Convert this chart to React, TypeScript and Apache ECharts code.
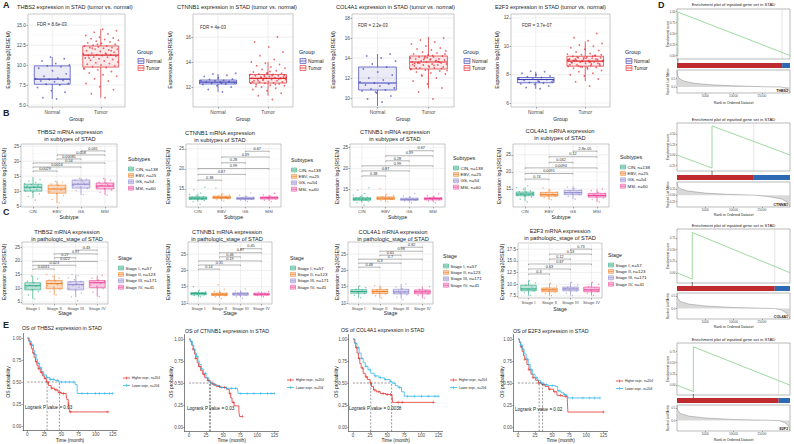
import React, { useEffect, useRef } from "react";
import * as echarts from "echarts";

const FONT = "'Liberation Sans', Arial, Helvetica, sans-serif";

/* ---------------- Panel A: tumor vs normal ---------------- */
const aGroups = ["Normal", "Tumor"];
const aTitles = [
  "THBS2 expression in STAD (tumor vs. normal)",
  "CTNNB1 expression in STAD (tumor vs. normal)",
  "COL4A1 expression in STAD (tumor vs. normal)",
  "E2F3 expression in STAD (tumor vs. normal)",
];
const aFdr = ["FDR = 8.6e-03", "FDR = 4e-03", "FDR = 2.2e-03", "FDR = 3.7e-07"];
const aTicks = [[5, 7.5, 10, 12.5, 15], [12, 14, 16], [10, 12, 14, 16, 18], [6, 8, 10, 12]];
const aTickLabels = [["5.0", "7.5", "10.0", "12.5", "15.0"], ["12", "14", "16"], ["10", "12", "14", "16", "18"], ["6", "8", "10", "12"]];
const aBoxNormal = [
  [5.75, 7.6, 8.25, 9.9, 11.0],
  [11.6, 12.24, 12.4, 12.56, 13.04],
  [9.2, 10.8, 11.5, 13.1, 14.4],
  [7.0, 7.43, 7.66, 7.8, 8.2],
];
const aBoxTumor = [
  [5.9, 9.75, 11.25, 12.4, 14.5],
  [11.3, 12.32, 12.7, 13.0, 14.0],
  [10.95, 12.9, 13.6, 14.2, 16.1],
  [7.55, 8.6, 8.96, 9.3, 10.35],
];
const aPtsNormal = [
  [5.75, 5.9, 6.6, 6.8, 7.2, 7.5, 7.6, 7.7, 7.9, 8.0, 8.1, 8.2, 8.3, 8.4, 8.6, 8.9, 9.3, 9.6, 9.8, 9.9, 10.0, 10.2, 10.5, 10.8, 11.0],
  [11.6, 11.8, 12.0, 12.1, 12.2, 12.25, 12.3, 12.35, 12.4, 12.4, 12.45, 12.5, 12.5, 12.55, 12.6, 12.65, 12.75, 12.85, 12.95, 13.05, 13.1, 12.3],
  [9.6, 9.9, 10.2, 10.5, 10.7, 10.8, 10.9, 11.0, 11.2, 11.3, 11.4, 11.5, 11.6, 11.8, 12.0, 12.3, 12.6, 12.9, 13.1, 13.4, 13.7, 14.0, 14.2, 14.4, 10.6],
  [7.0, 7.1, 7.2, 7.3, 7.35, 7.4, 7.45, 7.5, 7.55, 7.6, 7.65, 7.7, 7.75, 7.8, 7.85, 7.9, 8.0, 8.1, 8.2, 8.25, 7.6, 7.5],
];
const aPtsTumor = [
  [5.9, 6.4, 6.9, 7.3, 7.7, 8.0, 8.3, 8.6, 8.8, 9.0, 9.2, 9.4, 9.5, 9.7, 9.8, 9.9, 10.0, 10.1, 10.2, 10.3, 10.4, 10.5, 10.6, 10.7, 10.8, 10.9, 11.0, 11.0, 11.1, 11.2, 11.2, 11.3, 11.3, 11.4, 11.5, 11.5, 11.6, 11.7, 11.8, 11.9, 12.0, 12.0, 12.1, 12.2, 12.2, 12.3, 12.4, 12.4, 12.5, 12.6, 12.7, 12.8, 12.9, 13.0, 13.1, 13.2, 13.3, 13.4, 13.5, 13.7, 13.9, 14.1, 14.3, 14.5, 10.9, 11.8, 12.6, 9.6, 11.4, 12.1],
  [11.0, 11.3, 11.5, 11.7, 11.8, 11.9, 12.0, 12.1, 12.15, 12.2, 12.25, 12.3, 12.3, 12.35, 12.4, 12.4, 12.45, 12.5, 12.5, 12.55, 12.6, 12.6, 12.65, 12.7, 12.7, 12.7, 12.75, 12.8, 12.8, 12.85, 12.9, 12.9, 12.95, 13.0, 13.0, 13.05, 13.1, 13.15, 13.2, 13.3, 13.4, 13.5, 13.6, 13.7, 13.8, 13.9, 14.0, 14.2, 14.5, 14.8, 15.2, 15.6, 16.0, 12.6, 12.8, 12.9, 12.5, 12.7, 13.1, 12.4, 12.2, 12.75, 12.95, 13.25, 12.05, 12.65, 12.85],
  [9.9, 10.6, 11.0, 11.4, 11.7, 12.0, 12.2, 12.4, 12.5, 12.6, 12.7, 12.8, 12.9, 13.0, 13.0, 13.1, 13.2, 13.2, 13.3, 13.3, 13.4, 13.4, 13.5, 13.5, 13.6, 13.6, 13.7, 13.7, 13.8, 13.8, 13.9, 13.9, 14.0, 14.0, 14.1, 14.1, 14.2, 14.3, 14.4, 14.5, 14.6, 14.7, 14.8, 14.9, 15.0, 15.2, 15.4, 15.6, 15.8, 16.0, 13.1, 13.45, 13.65, 13.85, 12.75, 14.25, 13.55, 12.95, 14.05, 13.35, 13.75, 12.3, 14.4, 13.9, 13.0, 13.6, 14.15, 12.85, 13.25, 13.5],
  [7.2, 7.5, 7.7, 7.9, 8.0, 8.1, 8.2, 8.3, 8.4, 8.45, 8.5, 8.55, 8.6, 8.65, 8.7, 8.75, 8.8, 8.85, 8.9, 8.9, 8.95, 9.0, 9.0, 9.05, 9.1, 9.1, 9.15, 9.2, 9.2, 9.25, 9.3, 9.35, 9.4, 9.45, 9.5, 9.6, 9.7, 9.8, 9.9, 10.0, 10.1, 10.2, 10.4, 10.6, 10.9, 8.95, 9.05, 8.75, 9.25, 8.65, 9.15, 8.85, 9.35, 8.55, 9.0, 8.9, 9.1, 8.8, 9.2, 8.7, 9.3, 8.6, 9.4, 8.5, 9.0, 9.1, 8.95, 9.05, 8.9, 9.0],
];

/* ---------------- Panel B: subtypes ---------------- */
const subtypes = ["CIN", "EBV", "GS", "MSI"];
const subtypeLegend = ["CIN, n=138", "EBV, n=25", "GS, n=54", "MSI, n=60"];
const bTitles = [
  ["THBS2 mRNA expression", "in subtypes of STAD"],
  ["CTNNB1 mRNA expression", "in subtypes of STAD"],
  ["CTNNB1 mRNA expression", "in subtypes of STAD"],
  ["COL4A1 mRNA expression", "in subtypes of STAD"],
];
const bTicks = [[5, 10, 15, 20, 25], [15, 20, 25], [15, 20, 25], [15, 20, 25]];
const bTickLabels = [["5", "10", "15", "20", "25"], ["15", "20", "25"], ["15", "20", "25"], ["15", "20", "25"]];
const bBoxTHBS2 = [[7.7, 10.0, 11.3, 12.3, 14.3], [6.0, 9.3, 10.7, 12.0, 13.3], [8.7, 11.0, 12.3, 13.7, 14.3], [8.7, 10.7, 11.7, 12.7, 14.3]];
const bBoxCTNNB1 = [[11.8, 12.4, 12.7, 13.0, 13.8], [12.0, 12.6, 12.9, 13.2, 13.8], [11.9, 12.4, 12.6, 12.9, 13.4], [12.0, 12.5, 12.8, 13.0, 13.5]];
const bBoxCOL4A1 = [[11.5, 13.0, 13.5, 14.1, 15.5], [11.8, 12.9, 13.3, 14.0, 15.0], [12.0, 13.3, 13.9, 14.6, 15.8], [11.2, 12.6, 13.1, 13.7, 14.9]];
const bPtsTHBS2 = [
  [7.0, 8.2, 9.0, 9.6, 10.1, 10.5, 10.9, 11.2, 11.4, 11.7, 12.0, 12.2, 12.5, 12.9, 13.4, 13.9, 14.4, 11.0, 11.6, 10.3],
  [6.0, 7.2, 8.5, 9.2, 9.8, 10.4, 10.8, 11.3, 11.9, 12.4, 13.0, 13.2],
  [8.8, 10.2, 10.9, 11.4, 11.9, 12.2, 12.5, 12.9, 13.3, 13.6, 14.0, 14.3, 12.0, 12.7],
  [8.7, 9.6, 10.4, 10.9, 11.3, 11.6, 11.9, 12.3, 12.6, 13.0, 13.6, 14.2, 11.5, 12.1],
];
const bPtsCTNNB1 = [
  [11.2, 11.8, 12.1, 12.3, 12.5, 12.6, 12.7, 12.8, 12.9, 13.0, 13.1, 13.3, 13.6, 14.0, 14.8, 15.4, 12.65, 12.75, 12.45, 12.95],
  [12.0, 12.3, 12.6, 12.8, 12.9, 13.0, 13.2, 13.5, 13.8, 15.2, 12.7],
  [11.9, 12.2, 12.4, 12.5, 12.6, 12.7, 12.8, 12.9, 13.1, 13.4, 14.0, 12.55],
  [11.8, 12.2, 12.5, 12.6, 12.7, 12.8, 12.9, 13.0, 13.2, 13.5, 13.9, 12.75],
];
const bPtsCOL4A1 = [
  [11.2, 12.0, 12.6, 12.9, 13.2, 13.4, 13.6, 13.8, 14.0, 14.2, 14.5, 14.9, 15.4, 15.9, 13.5, 13.7, 13.1],
  [11.8, 12.5, 12.9, 13.1, 13.3, 13.5, 13.8, 14.1, 14.6, 15.3, 13.2],
  [12.0, 12.8, 13.3, 13.6, 13.9, 14.1, 14.4, 14.7, 15.1, 15.6, 13.8],
  [11.2, 11.9, 12.4, 12.8, 13.0, 13.2, 13.4, 13.7, 14.0, 14.5, 15.0, 13.1],
];
const bBoxes = [bBoxTHBS2, bBoxCTNNB1, bBoxCTNNB1, bBoxCOL4A1];
const bPts = [bPtsTHBS2, bPtsCTNNB1, bPtsCTNNB1, bPtsCOL4A1];
const bPvals = [
  ["0.0029", "0.0016", "0.54", "0.00081", "0.058", "0.031"],
  ["0.38", "0.87", "0.99", "0.28", "0.39", "0.67"],
  ["0.38", "0.87", "0.99", "0.28", "0.39", "0.67"],
  ["0.74", "0.0091", "0.0094", "0.032", "0.12", "2.8e-05"],
];

/* ---------------- Panel C: pathologic stage ---------------- */
const stages = ["Stage I", "Stage II", "Stage III", "Stage IV"];
const stageLegend = ["Stage I, n=57", "Stage II, n=123", "Stage III, n=171", "Stage IV, n=41"];
const cTitles = [
  ["THBS2 mRNA expression", "in pathologic_stage of STAD"],
  ["CTNNB1 mRNA expression", "in pathologic_stage of STAD"],
  ["COL4A1 mRNA expression", "in pathologic_stage of STAD"],
  ["E2F3 mRNA expression", "in pathologic_stage of STAD"],
];
const cTicks = [[5, 10, 15, 20, 25], [10, 15, 20, 25], [10, 15, 20, 25], [7.5, 10, 12.5, 15, 17.5]];
const cTickLabels = [["5", "10", "15", "20", "25"], ["10", "15", "20", "25"], ["10", "15", "20", "25"], ["7.5", "10.0", "12.5", "15.0", "17.5"]];
const cBoxes = [
  [[6.1, 9.4, 10.9, 12.0, 14.6], [7.6, 9.8, 11.7, 12.8, 15.0], [6.8, 9.4, 11.3, 12.4, 15.0], [7.0, 10.2, 12.0, 12.8, 14.6]],
  [[11.9, 12.5, 12.9, 13.2, 13.9], [11.6, 12.3, 12.7, 13.0, 13.8], [11.7, 12.4, 12.8, 13.1, 13.9], [11.9, 12.4, 12.7, 13.0, 13.5]],
  [[11.6, 13.0, 13.5, 14.1, 15.2], [11.5, 12.9, 13.5, 14.1, 15.4], [11.3, 12.8, 13.4, 14.2, 15.8], [11.5, 12.8, 13.4, 14.0, 15.0]],
  [[7.6, 8.6, 9.0, 9.8, 10.8], [7.6, 8.4, 8.8, 9.2, 10.2], [7.6, 8.6, 9.0, 9.4, 10.4], [7.6, 8.4, 8.8, 9.4, 10.4]],
];
const cPts = [
  [
    [6.1, 7.5, 8.8, 9.5, 10.2, 10.7, 11.1, 11.5, 12.0, 12.6, 13.4, 14.5],
    [7.6, 8.8, 9.6, 10.3, 10.9, 11.4, 11.8, 12.2, 12.6, 13.0, 13.6, 14.3, 15.0, 11.6],
    [5.5, 6.8, 8.3, 9.2, 9.8, 10.4, 10.9, 11.3, 11.7, 12.1, 12.5, 13.1, 13.8, 14.6, 15.0, 11.2, 11.5],
    [7.0, 8.6, 9.8, 10.6, 11.2, 11.8, 12.2, 12.6, 13.0, 13.6, 14.6],
  ],
  [
    [11.9, 12.3, 12.6, 12.8, 12.9, 13.0, 13.2, 13.5, 13.9, 15.0],
    [11.4, 11.9, 12.2, 12.4, 12.6, 12.7, 12.8, 13.0, 13.2, 13.6, 14.2, 15.6, 12.5],
    [11.5, 11.9, 12.3, 12.5, 12.7, 12.8, 12.9, 13.1, 13.3, 13.7, 14.3, 12.6, 12.75],
    [11.9, 12.3, 12.5, 12.7, 12.8, 13.0, 13.3, 13.5],
  ],
  [
    [11.6, 12.4, 12.9, 13.3, 13.6, 13.9, 14.2, 14.7, 15.2],
    [11.5, 12.2, 12.8, 13.1, 13.4, 13.6, 13.9, 14.2, 14.6, 15.4, 13.5],
    [11.0, 11.8, 12.5, 12.9, 13.2, 13.4, 13.7, 14.0, 14.4, 14.9, 15.8, 13.3, 13.6],
    [11.5, 12.3, 12.8, 13.2, 13.5, 13.8, 14.2, 15.0],
  ],
  [
    [7.6, 8.2, 8.6, 8.9, 9.1, 9.4, 9.8, 10.3, 10.8],
    [7.6, 8.0, 8.3, 8.6, 8.8, 9.0, 9.2, 9.6, 10.2, 8.9],
    [7.6, 8.1, 8.5, 8.8, 9.0, 9.2, 9.4, 9.8, 10.4, 9.1],
    [7.6, 8.1, 8.4, 8.7, 8.9, 9.2, 9.5, 10.0, 10.4],
  ],
];
const cPvals = [
  ["0.0031", "0.023", "0.022", "0.27", "0.97", "0.43"],
  ["0.14", "0.31", "0.19", "0.46", "0.87", "0.45"],
  ["0.48", "0.3", "0.7", "0.61", "0.98", "0.82"],
  ["0.3", "0.63", "0.67", "0.12", "0.53", "0.73"],
];
const comparisons = [[0, 1], [0, 2], [0, 3], [1, 2], [1, 3], [2, 3]];

/* ---------------- Panel E: Kaplan-Meier ---------------- */
const kmTitles = ["OS of THBS2 expression in STAD", "OS of CTNNB1 expression in STAD", "OS of COL4A1 expression in STAD", "OS of E2F3 expression in STAD"];
const kmLegend = ["Higher expr., n=204", "Lower expr., n=204"];
const kmPvals = ["Logrank P value = 0.03", "Logrank P value = 0.03", "Logrank P value = 0.0038", "Logrank P value = 0.02"];
const kmXTicks = [0, 25, 50, 75, 100, 125];
const kmXLabels = ["0", "25", "50", "75", "100", "125"];
const kmYTicks = [0, 0.25, 0.5, 0.75, 1];
const kmYLabels = ["0.00", "0.25", "0.50", "0.75", "1.00"];
const kmHigh = [
  [[0, 1], [2, 0.97], [4, 0.93], [6, 0.88], [8, 0.83], [10, 0.78], [12, 0.73], [14, 0.69], [16, 0.65], [19, 0.61], [22, 0.57], [25, 0.54], [28, 0.5], [31, 0.46], [35, 0.43], [40, 0.41], [45, 0.38], [50, 0.37], [57, 0.35], [58, 0.3], [60, 0.25], [61, 0.2], [62, 0.16], [118, 0.16]],
  [[0, 1], [2, 0.97], [4, 0.93], [6, 0.88], [8, 0.83], [10, 0.78], [12, 0.73], [14, 0.69], [17, 0.64], [20, 0.6], [23, 0.56], [27, 0.53], [31, 0.5], [35, 0.48], [40, 0.46], [46, 0.45], [55, 0.43], [59, 0.38], [61, 0.33], [63, 0.28], [66, 0.24], [73, 0.18], [74, 0.12], [78, 0.12]],
  [[0, 1], [2, 0.96], [4, 0.9], [6, 0.84], [8, 0.78], [10, 0.72], [12, 0.67], [15, 0.61], [18, 0.57], [21, 0.54], [25, 0.5], [27, 0.46], [30, 0.42], [34, 0.4], [40, 0.38], [48, 0.37], [57, 0.37], [58, 0.28], [118, 0.28]],
  [[0, 1], [2, 0.96], [4, 0.91], [6, 0.86], [8, 0.81], [10, 0.77], [13, 0.71], [16, 0.65], [19, 0.6], [22, 0.56], [26, 0.53], [30, 0.5], [35, 0.48], [40, 0.46], [45, 0.43], [52, 0.4], [57, 0.36], [65, 0.35], [72, 0.33], [73, 0.17], [125, 0.17]],
];
const kmLow = [
  [[0, 1], [3, 0.96], [6, 0.92], [9, 0.86], [11, 0.81], [13, 0.76], [15, 0.71], [18, 0.66], [21, 0.62], [24, 0.58], [28, 0.55], [33, 0.53], [40, 0.52], [46, 0.5], [55, 0.5], [70, 0.47], [73, 0.37], [125, 0.37]],
  [[0, 1], [2, 0.97], [5, 0.93], [7, 0.88], [9, 0.84], [11, 0.8], [13, 0.75], [15, 0.71], [18, 0.66], [21, 0.61], [25, 0.56], [29, 0.52], [32, 0.49], [38, 0.47], [45, 0.45], [55, 0.44], [65, 0.44], [71, 0.43], [72, 0.38], [125, 0.38]],
  [[0, 1], [3, 0.95], [6, 0.9], [9, 0.84], [12, 0.78], [15, 0.73], [18, 0.69], [22, 0.65], [26, 0.61], [31, 0.58], [38, 0.56], [46, 0.54], [54, 0.52], [57, 0.5], [62, 0.47], [66, 0.45], [71, 0.4], [75, 0.35], [125, 0.35]],
  [[0, 1], [2, 0.97], [4, 0.93], [7, 0.88], [9, 0.83], [12, 0.77], [15, 0.71], [18, 0.65], [21, 0.6], [25, 0.56], [29, 0.53], [33, 0.5], [38, 0.48], [44, 0.47], [55, 0.46], [58, 0.41], [63, 0.39], [67, 0.37], [71, 0.35], [73, 0.33], [120, 0.33]],
];
const kmHighCensor = [
  [5, 9, 13, 17, 21, 26, 30, 36, 42, 48, 53, 60, 63, 118],
  [6, 10, 15, 22, 28, 34, 38, 45, 52, 60, 65, 78],
  [5, 9, 14, 20, 26, 32, 38, 44, 50, 55, 66, 72, 118],
  [5, 10, 16, 22, 30, 38, 46, 54, 62, 70, 125],
];
const kmLowCensor = [
  [4, 8, 12, 16, 20, 24, 29, 34, 38, 44, 50, 56, 62, 68, 80, 88, 100, 106, 113, 120, 125],
  [4, 8, 12, 18, 24, 30, 36, 42, 48, 55, 62, 68, 76, 85, 95, 105, 115, 120, 125],
  [4, 8, 13, 19, 25, 33, 40, 48, 55, 60, 68, 80, 90, 100, 110, 120, 125],
  [4, 8, 14, 20, 27, 35, 42, 50, 60, 68, 80, 95, 105, 112, 120],
];
const kmMedians = [[29, 47], [30, 31.5], [26, 56.5], [31, 36]];

/* ---------------- Panel D: enrichment plots ---------------- */
const dGenes = ["THBS2", "CTNNB1", "COL4A1", "E2F3"];
const dTitle = "Enrichment plot of inputted gene set in STAD";
const dTotalRank = 20000;
const dHitRank = [150, 6200, 2700, 2900];
const dZeroCross = [18600, 13600, 17300, 18000];
const dES = [
  [[0, 0], [150, -0.01], [150, 0.99], [20000, 0]],
  [[0, 0], [6200, -0.31], [6200, 0.69], [20000, 0]],
  [[0, 0], [2700, -0.135], [2700, 0.865], [20000, 0]],
  [[0, 0], [2900, -0.145], [2900, 0.855], [20000, 0]],
];
const dESRange = [[-0.08, 1.06], [-0.38, 0.76], [-0.22, 0.94], [-0.22, 0.94]];
const dESTicks = [[0, 0.25, 0.5, 0.75, 1], [-0.25, 0, 0.25, 0.5], [0, 0.25, 0.5, 0.75], [0, 0.25, 0.5, 0.75]];
const dESLabels = [["0.00", "0.25", "0.50", "0.75", "1.00"], ["-0.25", "0.00", "0.25", "0.50"], ["0.00", "0.25", "0.50", "0.75"], ["0.00", "0.25", "0.50", "0.75"]];
const dMetric = [
  [[0, 0.95], [100, 0.7], [400, 0.5], [1200, 0.35], [3000, 0.22], [6000, 0.13], [10000, 0.07], [15000, 0.02], [18600, 0], [19300, -0.08], [19800, -0.2], [20000, -0.33]],
  [[0, 0.5], [150, 0.35], [600, 0.25], [2000, 0.16], [5000, 0.08], [9000, 0.03], [13600, 0], [16000, -0.05], [18500, -0.15], [19500, -0.28], [20000, -0.45]],
  [[0, 0.6], [150, 0.4], [600, 0.28], [2000, 0.18], [5000, 0.1], [10000, 0.04], [17300, 0], [18500, -0.06], [19500, -0.2], [20000, -0.4]],
  [[0, 0.6], [150, 0.4], [600, 0.28], [2000, 0.18], [5000, 0.1], [10000, 0.04], [18000, 0], [19000, -0.08], [19700, -0.2], [20000, -0.4]],
];
const dMetRange = [[-0.35, 1.0], [-0.47, 0.52], [-0.42, 0.62], [-0.42, 0.62]];
const dMetTicks = [[0, 0.5], [-0.25, 0, 0.25], [0, 0.5], [0, 0.5]];
const dMetLabels = [["0.0", "0.5"], ["-0.25", "0.00", "0.25"], ["0.0", "0.5"], ["0.0", "0.5"]];
const rankTicks = [5000, 10000, 15000];
const rankLabels = ["5000", "10000", "15000"];

/* ---------------- layout (pixels) ---------------- */
const A_LAY = [
  { l: 28, w: 97, ymin: 4.75, ymax: 16.4, tx: 17, fdr: [37, 24], leg: 137, yName: 8 },
  { l: 193, w: 100, ymin: 10.4, ymax: 17.85, tx: 177, fdr: [200, 27], leg: 299, yName: 170 },
  { l: 352, w: 102, ymin: 9.1, ymax: 18.4, tx: 336, fdr: [358, 25], leg: 463, yName: 333 },
  { l: 511, w: 99, ymin: 5.72, ymax: 12.28, tx: 495, fdr: [522, 25], leg: 625, yName: 497 },
];
const B_LAY = [
  { l: 21, t: 144, w: 96, h: 63, ymin: 4.7, ymax: 25.7, tx: 70, ty: 132, leg: 128, legY: 159, yName: 4, base: 16.7, step: 1.34 },
  { l: 186, t: 144, w: 95, h: 63, ymin: 10.5, ymax: 26.2, tx: 220, ty: 133, leg: 291, legY: 160, yName: 168, base: 17.2, step: 1.44 },
  { l: 350, t: 144, w: 95, h: 63, ymin: 10.8, ymax: 25.8, tx: 395, ty: 132, leg: 453, legY: 158, yName: 337, base: 18.2, step: 1.2 },
  { l: 513, t: 144, w: 96, h: 63, ymin: 9.7, ymax: 28.2, tx: 560, ty: 131, leg: 620, legY: 157, yName: 499, base: 17.9, step: 1.64 },
];
const C_LAY = [
  { l: 22, t: 242, w: 86, h: 62, ymin: 4.26, ymax: 26.85, tx: 67, ty: 232, leg: 118, legY: 258, yName: 4, base: 17.0, step: 1.38, xn: 313 },
  { l: 188, t: 242, w: 84, h: 62, ymin: 9.7, ymax: 28.7, tx: 227, ty: 232, leg: 290, legY: 258, yName: 168, base: 20.4, step: 1.25, xn: 313 },
  { l: 348, t: 242, w: 85, h: 62, ymin: 9.7, ymax: 28.7, tx: 393, ty: 232, leg: 443, legY: 256, yName: 337, base: 21.0, step: 1.22, xn: 313 },
  { l: 518, t: 243, w: 84, h: 55, ymin: 7.07, ymax: 18.8, tx: 560, ty: 231, leg: 608, legY: 255, yName: 502, base: 12.2, step: 1.06, xn: 309 },
];
const E_LAY = [
  { l: 23, t: 333.6, tx: 22, ty: 328, leg: [123, 378], yName: 8, p: [25, 407] },
  { l: 184.7, t: 334.6, tx: 185, ty: 331, leg: [287, 380], yName: 171, p: [187, 408] },
  { l: 348.7, t: 334.6, tx: 341, ty: 330, leg: [450, 380], yName: 336, p: [349, 408] },
  { l: 513.7, t: 334.6, tx: 513, ty: 331, leg: [616, 381], yName: 502, p: [515, 409] },
];
const D_LAY = [
  { title: 4, es: [9, 59], bar: [63, 68], met: [70, 93], tick: 98, name: 103, gene: 91 },
  { title: 119, es: [123, 171], bar: [175, 180], met: [182, 207], tick: 211, name: 215, gene: 205 },
  { title: 225, es: [229, 283], bar: [286, 291], met: [293, 319], tick: 323, name: 327, gene: 317 },
  { title: 339, es: [343, 395], bar: [398, 403], met: [405, 431], tick: 435, name: 440, gene: 429 },
];
const D_L = 677;
const D_W = 113;

const aColors = ["#3B3FB6", "#E0282E"];
const groupColors = ["#23A77F", "#EE7A1E", "#8B83CC", "#EC3A95"];
const kmColors = ["#E3342F", "#35B8EE"];
const PLUS = "path://M4,0H6V4H10V6H6V10H4V6H0V4H4Z";

function rgba(hex: string, a: number) {
  const n = parseInt(hex.slice(1), 16);
  return `rgba(${(n >> 16) & 255},${(n >> 8) & 255},${n & 255},${a})`;
}
function jit(i: number) {
  return (((i + 1) * 0.6180339887) % 1) * 2 - 1;
}
function survAt(curve: number[][], t: number) {
  let s = curve[0][1];
  for (const [tt, ss] of curve) if (tt <= t) s = ss;
  return s;
}

function buildOption() {
  const grid: any[] = [];
  const xAxis: any[] = [];
  const yAxis: any[] = [];
  const series: any[] = [];
  const graphic: any[] = [];

  const txt = (x: number, y: number, text: string, size: number, o: any = {}) => {
    graphic.push({
      type: "text", x, y, rotation: o.rot || 0, silent: true, z: 50,
      style: {
        text, fontSize: size, fontFamily: FONT, fontWeight: o.bold ? "bold" : "normal",
        fill: o.color || "#222", align: o.align || "left", verticalAlign: o.va || "middle",
        textAlign: o.align || "left", textVerticalAlign: o.va || "middle",
      },
    });
  };
  const gline = (x1: number, y1: number, x2: number, y2: number, stroke: string, lw = 0.6) =>
    graphic.push({ type: "line", silent: true, z: 50, shape: { x1, y1, x2, y2 }, style: { stroke, lineWidth: lw } });
  const grect = (x: number, y: number, w: number, h: number, stroke: string, fill: string, lw = 0.6) =>
    graphic.push({ type: "rect", silent: true, z: 50, shape: { x, y, width: w, height: h }, style: { stroke, fill, lineWidth: lw } });

  const addGrid = (l: number, t: number, w: number, h: number, border?: string) => {
    grid.push({ left: l, top: t, width: w, height: h, show: !!border, borderColor: border || "transparent", borderWidth: 0.6, backgroundColor: "transparent" });
    return grid.length - 1;
  };
  const axis = (gi: number, min: number, max: number, ticks: number[], labels: string[], o: any = {}) => {
    const has = ticks.length > 0;
    return {
      type: "value", gridIndex: gi, min, max,
      axisLine: { show: !!o.line, onZero: false, lineStyle: { color: "#333", width: 0.6 } },
      axisTick: has ? { show: true, customValues: ticks, length: o.tickLen ?? 1.5, lineStyle: { color: "#555", width: 0.5 } } : { show: false },
      axisLabel: has
        ? {
            show: true, customValues: ticks,
            formatter: (v: number) => { const k = ticks.findIndex((t) => Math.abs(t - v) < 1e-6); return k >= 0 ? labels[k] : ""; },
            fontSize: o.fs ?? 4.6, fontFamily: FONT, color: "#4d4d4d", margin: o.margin ?? 2,
          }
        : { show: false },
      splitLine: { show: false },
    };
  };
  const gridLines = (gi: number, lines: number[][], major = "#E2E2E2", minor = "#F0F0F0") => {
    series.push({
      type: "custom", xAxisIndex: gi, yAxisIndex: gi, silent: true, z: 1, data: lines,
      renderItem: (p: any, api: any) => {
        const cs = p.coordSys;
        const o = api.value(0), v = api.value(1), mi = api.value(2);
        const style = { stroke: mi ? minor : major, lineWidth: mi ? 0.35 : 0.55 };
        if (o === 0) {
          const y = api.coord([0, v])[1];
          return { type: "line", shape: { x1: cs.x, y1: y, x2: cs.x + cs.width, y2: y }, style };
        }
        const x = api.coord([v, 0])[0];
        return { type: "line", shape: { x1: x, y1: cs.y, x2: x, y2: cs.y + cs.height }, style };
      },
    });
  };

  const boxPanel = (c: any) => {
    const gi = addGrid(c.l, c.t, c.w, c.h, "#a3a3a3");
    const n = c.cats.length;
    const idx = c.cats.map((_: any, i: number) => i);
    xAxis.push(axis(gi, -0.5, n - 0.5, idx, c.cats, { fs: c.catFs, margin: 2.5 }));
    yAxis.push(axis(gi, c.ymin, c.ymax, c.ticks, c.tickLabels, { fs: c.fs }));
    const lines: number[][] = [];
    c.ticks.forEach((v: number) => lines.push([0, v, 0]));
    const st = c.ticks[1] - c.ticks[0];
    for (let v = c.ticks[0] - st / 2; v <= c.ymax; v += st) if (v >= c.ymin) lines.push([0, v, 1]);
    idx.forEach((i: number) => lines.push([1, i, 0]));
    gridLines(gi, lines);
    c.pts.forEach((arr: number[], g: number) =>
      series.push({
        type: "scatter", xAxisIndex: gi, yAxisIndex: gi, silent: true, z: 2, symbolSize: c.ptSize,
        itemStyle: { color: rgba(c.colors[g], c.ptAlpha) },
        data: arr.map((v, i) => [g + jit(i) * c.jw, v]),
      })
    );
    series.push({
      type: "custom", xAxisIndex: gi, yAxisIndex: gi, silent: true, z: 3,
      data: c.boxes.map((b: number[], i: number) => [i, ...b]),
      renderItem: (p: any, api: any) => {
        const x = api.value(0);
        const col = c.colors[p.dataIndex];
        const bw = api.size([1, 0])[0] * c.boxFrac;
        const pMin = api.coord([x, api.value(1)]);
        const pQ1 = api.coord([x, api.value(2)]);
        const pMed = api.coord([x, api.value(3)]);
        const pQ3 = api.coord([x, api.value(4)]);
        const pMax = api.coord([x, api.value(5)]);
        const s = { stroke: col, lineWidth: c.lw };
        return {
          type: "group",
          children: [
            { type: "line", shape: { x1: pMax[0], y1: pMax[1], x2: pQ3[0], y2: pQ3[1] }, style: s },
            { type: "line", shape: { x1: pQ1[0], y1: pQ1[1], x2: pMin[0], y2: pMin[1] }, style: s },
            { type: "rect", shape: { x: pMed[0] - bw / 2, y: pQ3[1], width: bw, height: pQ1[1] - pQ3[1] }, style: { stroke: col, lineWidth: c.lw, fill: rgba(col, c.fillAlpha) } },
            { type: "line", shape: { x1: pMed[0] - bw / 2, y1: pMed[1], x2: pMed[0] + bw / 2, y2: pMed[1] }, style: { stroke: col, lineWidth: c.lw * 1.7 } },
          ],
        };
      },
    });
    if (c.pvals) {
      series.push({
        type: "custom", xAxisIndex: gi, yAxisIndex: gi, silent: true, z: 5,
        data: comparisons.map((pr, k) => [pr[0], pr[1], c.base + k * c.step]),
        renderItem: (p: any, api: any) => {
          const y = api.value(2);
          const a = api.coord([api.value(0), y]);
          const b = api.coord([api.value(1), y]);
          const st2 = { stroke: "#6b6b6b", lineWidth: 0.5 };
          return {
            type: "group",
            children: [
              { type: "line", shape: { x1: a[0], y1: a[1], x2: b[0], y2: b[1] }, style: st2 },
              { type: "line", shape: { x1: a[0], y1: a[1], x2: a[0], y2: a[1] + 1 }, style: st2 },
              { type: "line", shape: { x1: b[0], y1: b[1], x2: b[0], y2: b[1] + 1 }, style: st2 },
              {
                type: "text", x: (a[0] + b[0]) / 2, y: a[1] - 0.3,
                style: { text: c.pvals[p.dataIndex], fontSize: 3.8, fontFamily: FONT, fill: "#333", align: "center", verticalAlign: "bottom", textAlign: "center", textVerticalAlign: "bottom" },
              },
            ],
          };
        },
      });
    }
    return gi;
  };

  /* ---- letters ---- */
  txt(3, 5, "A", 9, { bold: true });
  txt(3, 113, "B", 9, { bold: true });
  txt(3, 212, "C", 9, { bold: true });
  txt(3, 325, "E", 9, { bold: true });
  txt(658, 5, "D", 9, { bold: true });

  /* ---- A ---- */
  aTitles.forEach((title, i) => {
    const L = A_LAY[i];
    boxPanel({
      l: L.l, t: 14, w: L.w, h: 93, ymin: L.ymin, ymax: L.ymax, ticks: aTicks[i], tickLabels: aTickLabels[i],
      cats: aGroups, colors: aColors, pts: [aPtsNormal[i], aPtsTumor[i]], boxes: [aBoxNormal[i], aBoxTumor[i]],
      fs: 4.8, catFs: 4.8, jw: 0.37, ptSize: 1.7, ptAlpha: 0.85, boxFrac: 0.74, fillAlpha: 0.1, lw: 0.7,
    });
    txt(L.tx, 7, title, 5.6);
    txt(L.fdr[0], L.fdr[1], aFdr[i], 4.5, { color: "#333" });
    txt(L.yName, 60, "Expression log2(RSEM)", 5.4, { rot: Math.PI / 2, align: "center" });
    txt(L.l + L.w / 2, 118.5, "Group", 5.2, { align: "center" });
    txt(L.leg, 52, "Group", 5.6);
    aGroups.forEach((g, k) => {
      const y = 61 + k * 7;
      grect(L.leg + 1, y - 2.5, 6, 5, aColors[k], rgba(aColors[k], 0.1));
      gline(L.leg + 1, y, L.leg + 7, y, aColors[k], 0.7);
      txt(L.leg + 9, y, g, 4.8);
    });
  });

  /* ---- B and C ---- */
  const rowPanels = (titles: string[][], lay: any[], ticks: number[][], tickLabels: string[][], boxes: number[][][][], pts: number[][][][], pvals: string[][], cats: string[], legTitle: string, legItems: string[], xName: string, xNameY: number | null, yNameY: number) => {
    titles.forEach((tl, i) => {
      const L = lay[i];
      boxPanel({
        l: L.l, t: L.t, w: L.w, h: L.h, ymin: L.ymin, ymax: L.ymax, ticks: ticks[i], tickLabels: tickLabels[i],
        cats, colors: groupColors, pts: pts[i], boxes: boxes[i], fs: 4.6, catFs: 4.4, jw: 0.38, ptSize: 1.3, ptAlpha: 0.75,
        boxFrac: 0.74, fillAlpha: 0.28, lw: 0.6, pvals: pvals[i], base: L.base, step: L.step,
      });
      txt(L.tx, L.ty, tl[0], 5.7, { align: "center" });
      txt(L.tx, L.ty + 6.5, tl[1], 5.7, { align: "center" });
      txt(L.yName, yNameY, "Expression log2(RSEM)", 5.3, { rot: Math.PI / 2, align: "center" });
      txt(L.l + L.w / 2, xNameY ?? L.xn, xName, 5.2, { align: "center" });
      txt(L.leg, L.legY, legTitle, 5.3);
      legItems.forEach((g, k) => {
        const y = L.legY + 10 + k * 6.4;
        grect(L.leg + 0.5, y - 2, 5, 4, groupColors[k], rgba(groupColors[k], 0.3), 0.5);
        gline(L.leg + 0.5, y, L.leg + 5.5, y, groupColors[k], 0.6);
        txt(L.leg + 7.5, y, g, 4.4);
      });
    });
  };
  rowPanels(bTitles, B_LAY, bTicks, bTickLabels, bBoxes, bPts, bPvals, subtypes, "Subtypes", subtypeLegend, "Subtype", 216.5, 176);
  rowPanels(cTitles, C_LAY, cTicks, cTickLabels, cBoxes, cPts, cPvals, stages, "Stage", stageLegend, "Stage", null, 272);

  /* ---- E ---- */
  kmTitles.forEach((title, i) => {
    const L = E_LAY[i];
    const gi = addGrid(L.l, L.t, 94, 96.8);
    xAxis.push(axis(gi, -6.25, 131.25, kmXTicks, kmXLabels, { fs: 4.5, line: true, tickLen: 1.6, margin: 1.5 }));
    yAxis.push(axis(gi, -0.05, 1.05, kmYTicks, kmYLabels, { fs: 4.5, line: true, tickLen: 1.6, margin: 1.8 }));
    const curves = [kmHigh[i], kmLow[i]];
    const cens = [kmHighCensor[i], kmLowCensor[i]];
    const [m1, m2] = kmMedians[i];
    const dash = { color: "#333", width: 0.5, type: [2, 1.5] };
    [[[0, 0.5], [m2, 0.5]], [[m1, -0.05], [m1, 0.5]], [[m2, -0.05], [m2, 0.5]]].forEach((seg) =>
      series.push({ type: "line", xAxisIndex: gi, yAxisIndex: gi, silent: true, z: 5, symbol: "none", lineStyle: dash, data: seg })
    );
    curves.forEach((cv, k) => {
      series.push({ type: "line", xAxisIndex: gi, yAxisIndex: gi, step: "end", symbol: "none", silent: true, z: 3, lineStyle: { color: kmColors[k], width: 0.8 }, data: cv });
      series.push({
        type: "scatter", xAxisIndex: gi, yAxisIndex: gi, silent: true, z: 4, symbol: PLUS, symbolSize: 3,
        itemStyle: { color: kmColors[k] }, data: cens[k].map((t) => [t, survAt(cv, t)]),
      });
    });
    txt(L.tx, L.ty, title, 5.3);
    txt(L.yName, 382, "OS probability", 5, { rot: Math.PI / 2, align: "center" });
    txt(L.l + 47, 440.8, "Time (month)", 4.8, { align: "center" });
    txt(L.p[0], L.p[1], kmPvals[i], 4.6);
    kmLegend.forEach((lab, k) => {
      const x = L.leg[0];
      const y = L.leg[1] + k * 7.5;
      gline(x, y, x + 7, y, kmColors[k], 0.8);
      gline(x + 3.5, y - 1.5, x + 3.5, y + 1.5, kmColors[k], 0.6);
      txt(x + 9, y, lab, 3.2);
    });
  });

  /* ---- D ---- */
  dGenes.forEach((gene, i) => {
    const L = D_LAY[i];
    const g1 = addGrid(D_L, L.es[0], D_W, L.es[1] - L.es[0], "#8c8c8c");
    xAxis.push(axis(g1, 0, dTotalRank, [], []));
    yAxis.push(axis(g1, dESRange[i][0], dESRange[i][1], dESTicks[i], dESLabels[i], { fs: 3, tickLen: 1, margin: 1.5 }));
    gridLines(g1, [[1, dZeroCross[i], 0]], "#D0D0D0");
    series.push({ type: "line", xAxisIndex: g1, yAxisIndex: g1, silent: true, z: 3, symbol: "none", lineStyle: { color: "#86CF86", width: 0.8 }, data: dES[i] });

    const g2 = addGrid(D_L, L.bar[0], D_W, L.bar[1] - L.bar[0]);
    xAxis.push(axis(g2, 0, dTotalRank, [], []));
    yAxis.push(axis(g2, 0, 1, [], []));
    series.push({
      type: "custom", xAxisIndex: g2, yAxisIndex: g2, silent: true, z: 3,
      data: [[0, dZeroCross[i], 0], [dZeroCross[i], dTotalRank, 1]],
      renderItem: (p: any, api: any) => {
        const a = api.coord([api.value(0), 1]);
        const b = api.coord([api.value(1), 0]);
        return { type: "rect", shape: { x: a[0], y: a[1], width: b[0] - a[0], height: b[1] - a[1] }, style: { fill: p.dataIndex === 0 ? "#BF2A2F" : "#2C6BB3" } };
      },
    });
    series.push({
      type: "custom", xAxisIndex: g2, yAxisIndex: g2, silent: true, z: 4,
      data: [[dHitRank[i], 1]],
      renderItem: (p: any, api: any) => {
        const a = api.coord([api.value(0), api.value(1)]);
        return { type: "line", shape: { x1: a[0], y1: a[1] - 4, x2: a[0], y2: a[1] }, style: { stroke: "#222", lineWidth: 0.6 } };
      },
    });

    const g3 = addGrid(D_L, L.met[0], D_W, L.met[1] - L.met[0], "#8c8c8c");
    xAxis.push(axis(g3, 0, dTotalRank, rankTicks, rankLabels, { fs: 3.2, tickLen: 1, margin: 1.5 }));
    yAxis.push(axis(g3, dMetRange[i][0], dMetRange[i][1], dMetTicks[i], dMetLabels[i], { fs: 3, tickLen: 1, margin: 1.5 }));
    series.push({
      type: "line", xAxisIndex: g3, yAxisIndex: g3, silent: true, z: 3, symbol: "none", smooth: false,
      lineStyle: { color: "#8a8a8a", width: 0.5 }, areaStyle: { color: "#C9C9C9", origin: 0 }, data: dMetric[i],
    });

    txt(D_L + D_W / 2, L.title, dTitle, 4.2, { align: "center" });
    txt(668, (L.es[0] + L.es[1]) / 2, "Enrichment score", 3.4, { rot: Math.PI / 2, align: "center" });
    txt(668, (L.met[0] + L.met[1]) / 2, "Ranked List Metric", 3.2, { rot: Math.PI / 2, align: "center" });
    txt(D_L + D_W - 2, L.gene, gene, 3.6, { align: "right", bold: true });
    txt(D_L + D_W / 2, L.name, "Rank in Ordered Dataset", 3.6, { align: "center" });
  });

  return { animation: false, backgroundColor: "#ffffff", grid, xAxis, yAxis, series, graphic };
}

export default function App() {
  const ref = useRef<HTMLDivElement>(null);
  useEffect(() => {
    if (!ref.current) return;
    const chart = echarts.init(ref.current, undefined, { renderer: "svg" });
    chart.setOption(buildOption() as any);
    return () => chart.dispose();
  }, []);
  return <div ref={ref} style={{ position: "fixed", left: 0, top: 0, width: 794, height: 444, background: "#fff" }} />;
}
